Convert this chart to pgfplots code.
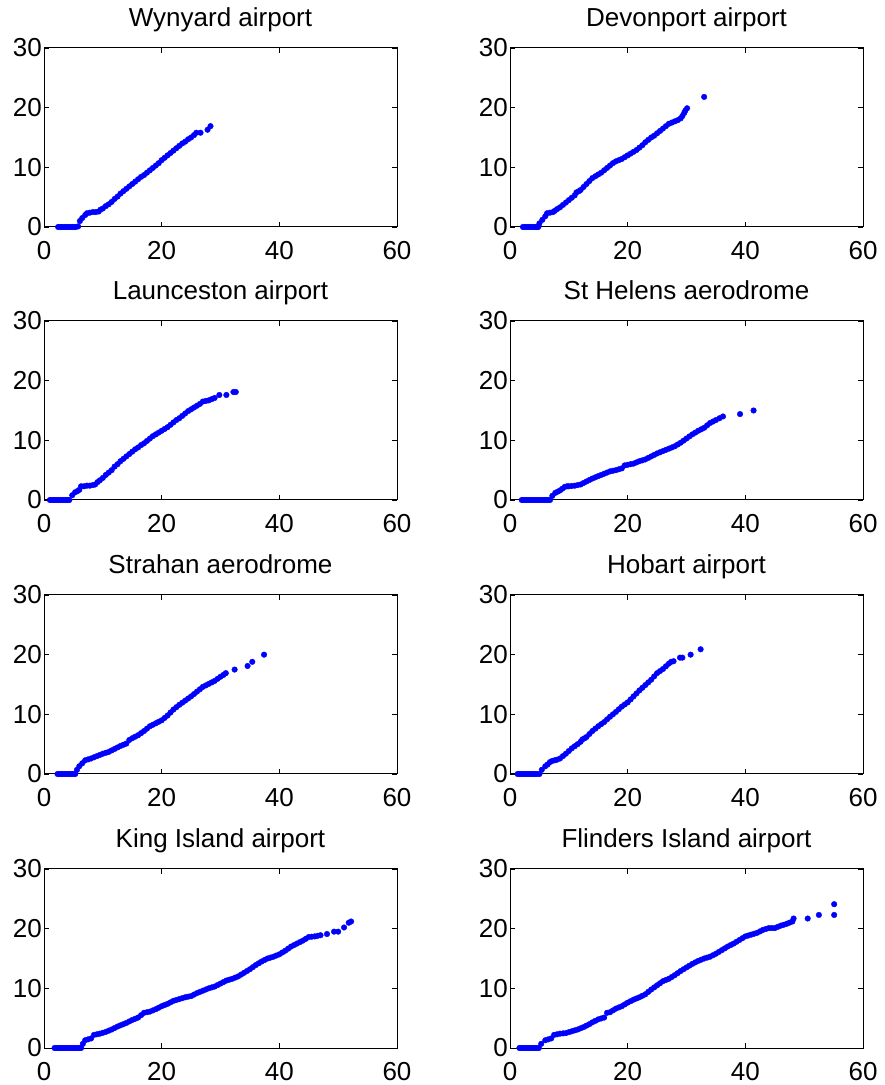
\documentclass[border=0pt]{standalone}
\usepackage{pgfplots}
\pgfplotsset{compat=1.18}
\usepackage{pgfplotstable}
\usepackage{fontspec}
\setmainfont{Liberation Sans}

\pgfplotstableread{
x y
2.4 0
2.7 0
3.0 0
3.3 0
3.6 0
3.9 0
4.2 0
4.5 0
4.8 0
5.1 0
5.4 0
5.8 0.1
6.1 1.0
6.5 1.5
7.0 2.0
7.3 2.3
7.8 2.4
8.3 2.5
8.8 2.5
9.3 2.6
9.6 2.9
10 3.1
10.5 3.5
11 3.8
11.5 4.2
12 4.7
12.5 5.1
13 5.6
13.5 6.0
14 6.4
14.5 6.8
15 7.2
15.5 7.6
16 8.0
16.5 8.4
17 8.7
17.5 9.1
18 9.5
18.5 9.9
19 10.3
19.5 10.7
20 11.2
20.5 11.6
21 12.0
21.5 12.4
22 12.8
22.5 13.2
23 13.6
23.5 14.0
24 14.3
24.5 14.7
25 15.0
25.5 15.4
25.9 15.8
26.6 15.8
27.8 16.3
28.3 16.9
}\wynyard

\pgfplotstableread{
x y
2.2 0
2.5 0
2.8 0
3.1 0
3.4 0
3.7 0
4.0 0
4.3 0
4.6 0
4.8 0
5.0 0.6
5.5 1.2
6.0 1.8
6.3 2.3
6.8 2.4
7.3 2.5
7.6 2.7
8 3.0
8.5 3.3
9 3.7
9.5 4.1
10 4.5
10.5 4.9
11 5.3
11.3 5.8
11.7 6.0
12 6.2
12.5 6.7
13 7.2
13.5 7.7
14 8.2
14.5 8.5
15 8.8
15.5 9.1
16 9.5
16.5 9.9
17 10.3
17.5 10.7
18 11.0
18.5 11.2
19 11.4
19.5 11.7
20 12.0
20.5 12.3
21 12.6
21.5 12.9
22 13.3
22.5 13.7
23 14.2
23.5 14.6
24 15.0
24.5 15.3
25 15.7
25.5 16.1
26 16.5
26.5 16.9
27 17.3
27.5 17.5
28 17.7
28.5 17.9
29 18.2
29.3 18.6
29.6 19.1
29.8 19.5
30.1 19.9
33.0 21.8
}\devonport

\pgfplotstableread{
x y
1.0 0
1.3 0
1.6 0
1.9 0
2.2 0
2.5 0
2.8 0
3.1 0
3.4 0
3.7 0
4.0 0
4.3 0
4.8 0.8
5.3 1.3
5.7 1.5
6.0 1.7
6.3 2.3
6.8 2.3
7.3 2.4
7.8 2.4
8.3 2.5
8.7 2.6
9.1 3.0
9.5 3.3
10 3.7
10.5 4.2
11 4.6
11.5 5.0
12 5.6
12.5 6.0
13 6.5
13.5 6.9
14 7.3
14.5 7.7
15 8.1
15.5 8.5
16 8.8
16.5 9.2
17 9.5
17.5 9.9
18 10.3
18.5 10.7
19 11.0
19.5 11.3
20 11.6
20.5 11.9
21 12.2
21.5 12.6
22 13.0
22.5 13.4
23 13.7
23.5 14.1
24 14.5
24.5 14.9
25 15.2
25.5 15.5
26 15.8
26.5 16.1
27 16.5
27.5 16.6
28 16.7
28.5 16.9
29 17.1
29.8 17.6
31.0 17.6
32.2 18.1
32.6 18.1
}\launceston

\pgfplotstableread{
x y
2.0 0
2.3 0
2.6 0
2.9 0
3.2 0
3.5 0
3.8 0
4.1 0
4.4 0
4.7 0
5.0 0
5.3 0
5.6 0
5.9 0
6.2 0
6.5 0
6.8 0
7.2 0.7
7.7 1.2
8.1 1.4
8.5 1.6
8.9 1.9
9.3 2.2
9.7 2.3
10 2.3
10.5 2.35
11 2.4
11.5 2.5
12 2.6
12.5 2.85
13 3.1
13.5 3.35
14 3.6
14.5 3.8
15 4.0
15.5 4.2
16 4.4
16.5 4.6
17 4.8
17.5 4.9
18 5.0
18.5 5.15
19 5.3
19.5 5.8
20 5.9
20.5 6.0
21 6.1
21.5 6.3
22 6.5
22.5 6.65
23 6.8
23.5 7.05
24 7.3
24.5 7.55
25 7.8
25.5 8.0
26 8.2
26.5 8.4
27 8.6
27.5 8.8
28 9.0
28.5 9.3
29 9.6
29.5 9.95
30 10.3
30.5 10.65
31 11.0
31.5 11.3
32 11.6
32.5 11.85
33 12.1
33.5 12.5
34 12.9
34.5 13.15
35 13.4
35.6 13.7
36.2 14.0
39.1 14.4
41.4 15.0
}\sthelens

\pgfplotstableread{
x y
2.3 0
2.6 0
2.9 0
3.2 0
3.5 0
3.8 0
4.1 0
4.4 0
4.7 0
5.0 0
5.3 0
5.6 0.7
6.0 1.3
6.5 1.8
7.0 2.3
7.5 2.45
8 2.6
8.5 2.8
9 3.0
9.5 3.2
10 3.4
10.5 3.55
11 3.7
11.5 3.95
12 4.2
12.5 4.45
13 4.7
13.5 4.9
14 5.1
14.5 5.7
15 6.0
15.5 6.25
16 6.5
16.5 6.85
17 7.2
17.5 7.6
18 8.0
18.5 8.25
19 8.5
19.5 8.75
20 9.0
20.5 9.4
21 9.8
21.5 10.3
22 10.8
22.5 11.2
23 11.6
23.5 11.95
24 12.3
24.5 12.65
25 13.0
25.5 13.4
26 13.8
26.5 14.2
27 14.6
27.5 14.85
28 15.1
28.5 15.35
29 15.6
29.5 15.95
30 16.3
30.5 16.6
30.9 16.9
32.4 17.5
34.6 18.1
35.4 18.8
37.4 20.0
}\strahan

\pgfplotstableread{
x y
1.3 0
1.6 0
1.9 0
2.2 0
2.5 0
2.8 0
3.1 0
3.4 0
3.7 0
4.0 0
4.3 0
4.6 0
5.0 0
5.4 0.7
6.0 1.3
6.4 1.6
6.8 2.0
7.2 2.2
7.6 2.3
8 2.4
8.5 2.6
9 3.0
9.5 3.4
10 3.85
10.5 4.3
11 4.65
11.5 5.0
12 5.4
12.3 5.8
12.7 6.0
13 6.2
13.5 6.7
14 7.2
14.5 7.6
15 8.0
15.5 8.35
16 8.7
16.5 9.15
17 9.6
17.5 10.0
18 10.4
18.5 10.85
19 11.3
19.5 11.65
20 12.0
20.5 12.5
21 13.0
21.5 13.5
22 14.0
22.5 14.45
23 14.9
23.5 15.35
24 15.8
24.5 16.35
25 16.9
25.5 17.25
26 17.6
26.5 18.05
27 18.5
27.4 18.8
27.8 18.9
28.9 19.5
29.3 19.5
30.7 20.0
32.4 20.9
}\hobart

\pgfplotstableread{
x y
1.8 0
2.1 0
2.4 0
2.7 0
3.0 0
3.3 0
3.6 0
3.9 0
4.2 0
4.5 0
4.8 0
5.1 0
5.4 0
5.7 0
6.0 0
6.3 0
6.6 0.7
7.0 1.3
7.5 1.45
8.0 1.6
8.5 2.2
9 2.3
9.5 2.4
10 2.55
10.5 2.7
11 2.9
11.5 3.1
12 3.35
12.5 3.6
13 3.8
13.5 4.0
14 4.2
14.5 4.45
15 4.7
15.5 4.9
16 5.1
16.5 5.5
17 5.9
17.5 6.0
18 6.1
18.5 6.3
19 6.5
19.5 6.75
20 7.0
20.5 7.2
21 7.4
21.5 7.65
22 7.9
22.5 8.05
23 8.2
23.5 8.35
24 8.5
24.5 8.6
25 8.7
25.5 8.95
26 9.2
26.5 9.4
27 9.6
27.5 9.8
28 10.0
28.5 10.15
29 10.3
29.5 10.55
30 10.8
30.5 11.05
31 11.3
31.5 11.45
32 11.6
32.5 11.8
33 12.0
33.5 12.3
34 12.6
34.5 12.9
35 13.2
35.5 13.55
36 13.9
36.5 14.2
37 14.5
37.5 14.75
38 15.0
38.5 15.15
39 15.3
39.5 15.5
40 15.7
40.5 16.0
41 16.3
41.5 16.65
42 17.0
42.5 17.25
43 17.5
43.5 17.75
44 18.0
44.5 18.3
45 18.6
45.5 18.65
46 18.7
46.5 18.8
47 18.9
48.1 19.1
49.3 19.5
50 19.5
51 20.2
51.8 21.0
52.2 21.2
}\kingisland

\pgfplotstableread{
x y
1.6 0
1.9 0
2.2 0
2.5 0
2.8 0
3.1 0
3.4 0
3.7 0
4.0 0
4.3 0
4.6 0
4.9 0
5.3 0.7
6.0 1.3
6.5 1.45
7 1.6
7.5 2.2
8 2.3
8.5 2.4
9 2.45
9.5 2.5
10 2.65
10.5 2.8
11 2.95
11.5 3.1
12 3.3
12.5 3.5
13 3.75
13.5 4.0
14 4.3
14.5 4.55
15 4.8
15.5 4.95
16 5.1
16.5 5.9
17 6.0
17.5 6.3
18 6.6
18.5 6.8
19 7.0
19.5 7.3
20 7.6
20.5 7.85
21 8.1
21.5 8.3
22 8.5
22.5 8.75
23 9.0
23.5 9.4
24 9.8
24.5 10.15
25 10.5
25.5 10.85
26 11.2
26.5 11.4
27 11.6
27.5 11.9
28 12.2
28.5 12.55
29 12.9
29.5 13.2
30 13.5
30.5 13.8
31 14.1
31.5 14.35
32 14.6
32.5 14.8
33 15.0
33.5 15.15
34 15.3
34.5 15.55
35 15.8
35.5 16.1
36 16.4
36.5 16.7
37 17.0
37.5 17.25
38 17.5
38.5 17.8
39 18.1
39.5 18.4
40 18.7
40.5 18.85
41 19.0
41.5 19.15
42 19.3
42.5 19.55
43 19.8
43.5 19.95
44 20.1
44.5 20.1
45 20.1
45.5 20.3
46 20.5
46.5 20.65
47 20.8
47.5 21.0
48 21.2
48.2 21.7
50.6 21.7
52.5 22.3
55.1 22.3
55.1 24.1
}\flinders

\pgfplotsset{
  mat/.style={
    scale only axis, width=353pt, height=179pt,
    anchor=south west,
    xmin=0, xmax=60, ymin=0, ymax=30,
    xtick={0,20,40,60}, ytick={0,10,20,30},
    tick align=inside, major tick length=5pt,
    tick style={black, line width=0.8pt},
    axis line style={black, line width=1pt},
    /pgf/number format/assume math mode=true,
    ticklabel style={font=\fontsize{26}{26}\selectfont, inner sep=0pt},
    xticklabel style={yshift=-14pt},
    yticklabel style={xshift=-2pt},
    title style={font=\fontsize{26}{26}\selectfont, at={(0.5,1)}, anchor=base, yshift=15pt},
  },
  pts/.style={only marks, mark=*, mark size=2.8pt, color=blue, mark options={draw=none, fill=blue}},
}

\begin{document}
\begin{tikzpicture}
\useasboundingbox (0pt,0pt) rectangle (885pt,1085pt);
\begin{axis}[mat, at={(44pt,858pt)}, title={Wynyard airport}]
\addplot[pts] table {\wynyard};
\end{axis}
\begin{axis}[mat, at={(510pt,858pt)}, title={Devonport airport}]
\addplot[pts] table {\devonport};
\end{axis}
\begin{axis}[mat, at={(44pt,585pt)}, title={Launceston airport}]
\addplot[pts] table {\launceston};
\end{axis}
\begin{axis}[mat, at={(510pt,585pt)}, title={St Helens aerodrome}]
\addplot[pts] table {\sthelens};
\end{axis}
\begin{axis}[mat, at={(44pt,311pt)}, title={Strahan aerodrome}]
\addplot[pts] table {\strahan};
\end{axis}
\begin{axis}[mat, at={(510pt,311pt)}, title={Hobart airport}]
\addplot[pts] table {\hobart};
\end{axis}
\begin{axis}[mat, at={(44pt,37pt)}, title={King Island airport}]
\addplot[pts] table {\kingisland};
\end{axis}
\begin{axis}[mat, at={(510pt,37pt)}, title={Flinders Island airport}]
\addplot[pts] table {\flinders};
\end{axis}
\end{tikzpicture}
\end{document}
